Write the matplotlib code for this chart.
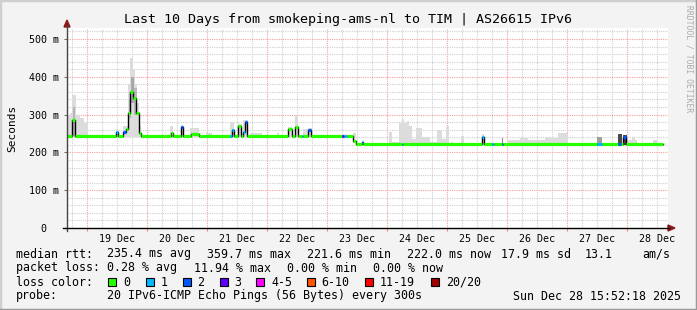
import matplotlib
matplotlib.use('Agg')
import matplotlib.pyplot as plt
from matplotlib.patches import Rectangle, Polygon
from matplotlib.lines import Line2D
import numpy as np

W, H = 697, 310
MONO = 'DejaVu Sans Mono'

# time axis: hours since Dec 18 16:00, 10 days shown
t_end = 240.4
day_names = ['19 Dec', '20 Dec', '21 Dec', '22 Dec', '23 Dec',
             '24 Dec', '25 Dec', '26 Dec', '27 Dec', '28 Dec']

# median rtt (ms), step segments: start hour, value, loss bucket
med_start = [0, 2.0, 3.2, 19.6, 20.4, 22.4, 23.6, 24.4, 25.2, 26.4, 27.6, 28.8,
             29.6, 41.6, 42.4, 45.6, 46.4, 49.6, 52.8, 65.2, 66.0, 66.8, 68.4,
             69.6, 70.4, 71.2, 72.0, 88.4, 90.0, 91.2, 92.4, 94.0, 94.4, 96.4,
             97.6, 110.0, 110.8, 112.0, 114.4, 115.6, 118.0, 118.4, 134.0, 134.4,
             166.0, 166.8, 170.0, 170.8, 174.0, 174.4, 212.0, 214.0, 220.4, 221.6,
             222.4, 223.6]
med_value = [243, 286, 243, 254, 243, 254, 262, 304, 360, 344, 304, 251,
             243, 251, 243, 267, 243, 248, 243, 243, 259, 243, 270,
             243, 254, 280, 243, 262, 243, 267, 243, 243, 243, 259,
             243, 243, 243, 243, 231, 221, 228, 221, 221, 221,
             240, 221, 221, 221, 221, 221, 221, 221, 221, 221,
             241, 221]
med_loss = [0, 0, 0, 1, 0, 2, 0, 0, 0, 0, 0, 0,
            0, 0, 0, 2, 0, 0, 0, 1, 1, 0, 0,
            0, 1, 2, 0, 0, 0, 0, 0, 1, 0, 2,
            0, 3, 1, 0, 0, 0, 1, 0, 1, 0,
            1, 0, 1, 0, 2, 0, 1, 0, 2, 0,
            2, 0]
med_last = 238.4

# smoke (spread of the 20 pings): start, end, low, high
smoke_start = [0, 1.2, 2.0, 3.6, 5.2, 6.8, 19.6, 22.4, 24.4, 25.2, 26.4, 27.2,
               28.0, 28.8, 41.2, 45.6, 49.2, 55.6, 65.2, 68.4, 70.4, 73.2, 84.0,
               88.4, 91.2, 94.4, 96.4, 114.4,
               128.8, 130.0, 132.8, 134.0, 134.8, 136.0, 136.8, 138.0, 139.6, 142.0,
               145.2, 148.0, 150.0, 151.6, 153.6, 157.6, 166.0, 176.4, 181.2, 184.4,
               188.4, 191.2, 193.2, 196.4, 224.4, 226.0, 227.2, 234.4]
smoke_end = [1.2, 2.0, 3.6, 5.2, 6.8, 8.4, 20.4, 24.4, 25.2, 26.4, 27.2, 28.0,
             28.8, 29.6, 42.4, 46.4, 52.8, 58.0, 66.8, 70.0, 72.4, 78.0, 84.8,
             90.0, 92.4, 96.4, 98.0, 115.6,
             130.0, 132.8, 134.0, 134.8, 136.0, 136.8, 138.0, 139.6, 142.0, 145.2,
             148.0, 150.0, 151.6, 152.8, 154.4, 158.8, 166.8, 181.2, 184.4, 188.4,
             191.2, 193.2, 196.4, 200.4, 226.0, 227.2, 228.0, 236.0]
smoke_low = [240] * 28 + [219] * 28
smoke_high = [300, 305, 352, 300, 290, 278, 262, 270, 380, 450, 420, 380,
              330, 270, 270, 272, 264, 250, 280, 275, 285, 252, 250,
              268, 300, 262, 265, 250,
              255, 228, 277, 288, 277, 282, 270, 236, 264, 240,
              228, 258, 235, 270, 228, 243, 248, 234, 237, 234,
              232, 242, 238, 250, 232, 238, 232, 232]

# darker smoke columns
dark_start = [2.4, 24.8, 25.6, 26.8, 174.0, 212.0, 220.4, 222.4]
dark_end = [3.2, 25.6, 26.8, 28.0, 174.4, 214.0, 222.0, 224.0]
dark_low = [243, 290, 330, 300, 219, 219, 219, 219]
dark_high = [320, 340, 400, 370, 238, 240, 248, 245]
dark_color = ['#b5b5b5', '#b8b8b8', '#a8a8a8', '#b8b8b8', '#888888', '#a0a0a0', '#4a4a4a', '#4a4a4a']

loss_labels = ['0', '1', '2', '3', '4-5', '6-10', '11-19', '20/20']
loss_colors = ['#26ff00', '#00b8ff', '#0059ff', '#5e00ff', '#ff00ff', '#ff5500', '#ff0000', '#a10000']

stats_rtt = ['235.4 ms avg', '359.7 ms max', '221.6 ms min', '222.0 ms now', '17.9 ms sd', '13.1', 'am/s']
stats_loss = ['0.28 % avg', '11.94 % max', '0.00 % min', '0.00 % now']


def fx(px):
    return px / W


def fy(py):
    return 1 - py / H


fig = plt.figure(figsize=(W / 100, H / 100), dpi=100, facecolor='#f3f3f3')
ax = fig.add_axes([fx(67), fy(228), (668 - 67) / W, 200 / H])
ax.set_facecolor('white')
ax.set_xlim(0, t_end)
ax.set_ylim(0, 529)

# grid
dots = (0, (1, 1))
for h in np.arange(2, t_end, 6):
    major = (h - 8) % 24 == 0
    ax.axvline(h, color='#f7a0a0' if major else '#d0d0d0', lw=0.8, ls=dots, zorder=0)
for v in np.arange(20, 529, 20):
    major = v % 100 == 0
    ax.axhline(v, color='#f7a0a0' if major else '#d0d0d0', lw=0.8, ls=dots, zorder=0)

# smoke
for s, e, lo, hi in zip(smoke_start, smoke_end, smoke_low, smoke_high):
    ax.fill_between([s, e], lo, hi, color='#dcdcdc', lw=0, zorder=1)
for s, e, lo, hi, c in zip(dark_start, dark_end, dark_low, dark_high, dark_color):
    ax.fill_between([s, e], lo, hi, color=c, lw=0, zorder=2)

# median line
ends = med_start[1:] + [med_last]
ax.step(med_start + [med_last], med_value + [med_value[-1]], where='post',
        color='black', lw=1.0, zorder=3)
ax.hlines(med_value, med_start, ends, colors=[loss_colors[i] for i in med_loss],
          lw=2.3, zorder=4)

# axes
for sp in ax.spines.values():
    sp.set_visible(False)
ax.set_yticks(range(0, 501, 100))
ax.set_yticklabels(['0  '] + ['%d m' % v for v in range(100, 501, 100)],
                   fontfamily=MONO, fontsize=7.2)
ax.tick_params(axis='y', length=2.5, width=0.6, color='#555555', pad=3.5)
ax.set_xticks(np.arange(8, t_end, 24))
ax.set_xticklabels([])
ax.tick_params(axis='x', which='major', length=2.5, width=0.8, color='#f08080')
ax.set_xticks(np.arange(20, t_end, 24), minor=True)
ax.set_xticklabels(day_names, minor=True, fontfamily=MONO, fontsize=7.2)
ax.tick_params(axis='x', which='minor', length=0, pad=4)
ax.set_ylabel('Seconds', fontfamily=MONO, fontsize=8, labelpad=8)

# axis lines with arrows
fig.add_artist(Line2D([fx(67), fx(67)], [fy(231), fy(26)], color='#444444', lw=1))
fig.add_artist(Line2D([fx(63), fx(669)], [fy(228), fy(228)], color='black', lw=1))
fig.add_artist(Polygon([(fx(64), fy(27)), (fx(70), fy(27)), (fx(67), fy(20))],
                       closed=True, color='#8b1a1a', transform=fig.transFigure))
fig.add_artist(Polygon([(fx(668), fy(225)), (fx(668), fy(231)), (fx(675), fy(228))],
                       closed=True, color='#8b1a1a', transform=fig.transFigure))

# title and side text
fig.text(fx(348), fy(19), 'Last 10 Days from smokeping-ams-nl to TIM | AS26615 IPv6',
         ha='center', va='center', fontfamily=MONO, fontsize=9.6)
fig.text(fx(689), fy(5), 'RRDTOOL / TOBI OETIKER', rotation=270, ha='center', va='top',
         fontfamily=MONO, fontsize=5.8, color='#aaaaaa')

# legend block
fs = 8.4
rows = [254, 268, 282, 296]
fig.text(fx(16), fy(rows[0]), 'median rtt:', va='center', fontfamily=MONO, fontsize=fs)
for x, s in zip([107, 207, 307, 407, 501, 585, 642], stats_rtt):
    fig.text(fx(x), fy(rows[0]), s, va='center', fontfamily=MONO, fontsize=fs)
fig.text(fx(16), fy(rows[1]), 'packet loss:', va='center', fontfamily=MONO, fontsize=fs)
for x, s in zip([107, 194, 287, 373], stats_loss):
    fig.text(fx(x), fy(rows[1]), s, va='center', fontfamily=MONO, fontsize=fs)
fig.text(fx(16), fy(rows[2]), 'loss color:', va='center', fontfamily=MONO, fontsize=fs)
sw_x = [108, 145.5, 182.5, 219.5, 256, 306.5, 365, 431]
for x, c, lab in zip(sw_x, loss_colors, loss_labels):
    fig.add_artist(Rectangle((fx(x), fy(286)), 8 / W, 8 / H, facecolor=c,
                             edgecolor='black', lw=0.8, transform=fig.transFigure))
    fig.text(fx(x + 15), fy(rows[2]), lab, va='center', fontfamily=MONO, fontsize=fs)
fig.text(fx(16), fy(rows[3]), 'probe:', va='center', fontfamily=MONO, fontsize=fs)
fig.text(fx(107), fy(rows[3]), '20 IPv6-ICMP Echo Pings (56 Bytes) every 300s',
         va='center', fontfamily=MONO, fontsize=fs)
fig.text(fx(513), fy(rows[3]), 'Sun Dec 28 15:52:18 2025', va='center',
         fontfamily=MONO, fontsize=fs)

# frame around image
fig.add_artist(Line2D([0, 0, 1], [0, 1, 1], color='#cfcfcf', lw=2.5, transform=fig.transFigure))
fig.add_artist(Line2D([0, 1, 1], [0, 0, 1], color='#9a9a9a', lw=2.5, transform=fig.transFigure))

fig.savefig('out.png', dpi=100, facecolor=fig.get_facecolor())
